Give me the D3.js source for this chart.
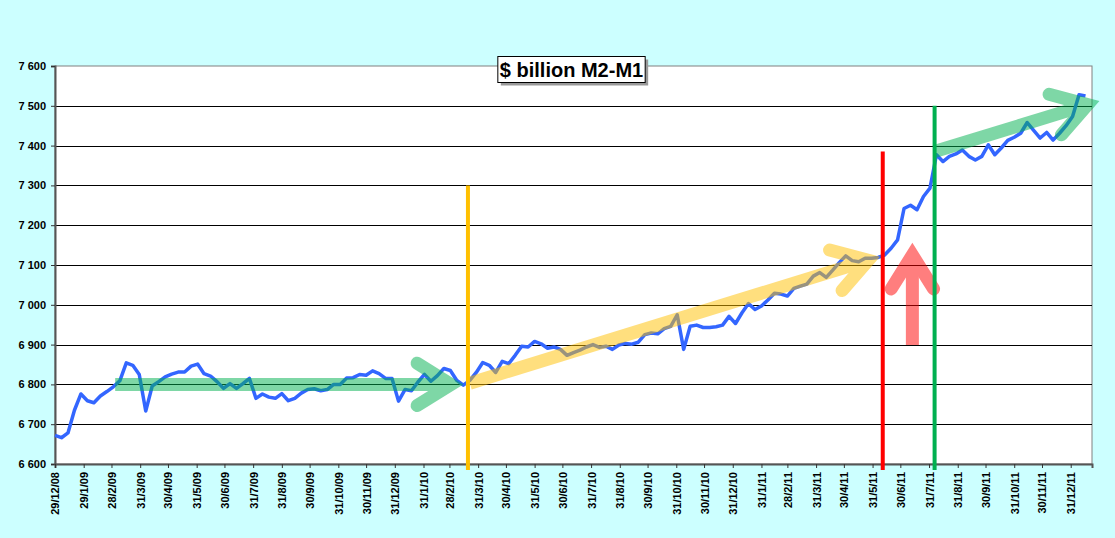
<!DOCTYPE html>
<html>
<head>
<meta charset="utf-8">
<script src="https://cdn.jsdelivr.net/npm/d3@7"></script>
<style>
  html, body { margin: 0; padding: 0; background: #ccffff; }
  svg { display: block; font-family: Arial, 'Liberation Sans', sans-serif; }
</style>
</head>
<body>
<div id="chart"></div>
<script>
// weekly M2-M1, $ billion, first week 29/12/08
const firstWeek = '29/12/08';
const m2m1 = [
  6672, 6666, 6678, 6735, 6776, 6759, 6754, 6771, 6782, 6794,
  6809, 6854, 6848, 6825, 6733, 6796, 6807, 6819, 6826, 6831,
  6831, 6846, 6851, 6827, 6821, 6807, 6790, 6802, 6790, 6802,
  6815, 6765, 6776, 6768, 6765, 6777, 6759, 6765, 6778, 6787,
  6789, 6784, 6787, 6800, 6800, 6816, 6817, 6825, 6823, 6834,
  6827, 6815, 6815, 6758, 6787, 6784, 6806, 6825, 6808, 6822,
  6840, 6835, 6810, 6798, 6810, 6830, 6855, 6848, 6830, 6858,
  6852, 6873, 6896, 6894, 6908, 6902, 6891, 6894, 6888, 6873,
  6880, 6886, 6894, 6900, 6893, 6896, 6888, 6899, 6903, 6901,
  6906, 6925, 6929, 6927, 6940, 6946, 6975, 6888, 6946, 6949,
  6943, 6943, 6945, 6949, 6971, 6953, 6980, 7003, 6988, 6997,
  7012, 7029, 7027, 7022, 7041, 7047, 7052, 7072, 7081, 7069,
  7087, 7106, 7123, 7111, 7108, 7117, 7117, 7119, 7125, 7142,
  7163, 7242, 7250, 7239, 7272, 7293, 7377, 7360, 7373, 7379,
  7389, 7373, 7364, 7373, 7402, 7377, 7394, 7413, 7421, 7431,
  7458, 7438, 7419, 7433, 7414, 7431, 7450, 7473, 7528, 7525
];

const xTickLabels = [
  '29/12/08', '29/1/09', '28/2/09', '31/3/09', '30/4/09', '31/5/09', '30/6/09',
  '31/7/09', '31/8/09', '30/9/09', '31/10/09', '30/11/09', '31/12/09', '31/1/10',
  '28/2/10', '31/3/10', '30/4/10', '31/5/10', '30/6/10', '31/7/10', '31/8/10',
  '30/9/10', '31/10/10', '30/11/10', '31/12/10', '31/1/11', '28/2/11', '31/3/11',
  '30/4/11', '31/5/11', '30/6/11', '31/7/11', '31/8/11', '30/9/11', '31/10/11',
  '30/11/11', '31/12/11'
];
const yTicks = [6600, 6700, 6800, 6900, 7000, 7100, 7200, 7300, 7400, 7500, 7600];
const xDomain = ['29/12/08', '23/1/12'];
const yDomain = [6600, 7600];

const title = '$ billion M2-M1';

// vertical marker lines: date, top value
const markerDates = ['20/3/10', '11/6/11', '6/8/11'];
const markerTops = [7300, 7385, 7500];
const markerBottom = 6585;

// trend arrows: start date/value -> tip date/value
const arrowFrom = [['4/3/09', 6800], ['22/3/10', 6803], ['13/7/11', 6899], ['6/8/11', 7385]];
const arrowTo = [['15/3/10', 6800], ['8/6/11', 7121], ['13/7/11', 7156], ['31/1/12', 7512]];

const markerColors = ['#ffc000', '#ff0000', '#00b050'];
const arrowColors = ['#00b050', '#ffc000', '#ff0000', '#00b050'];

const width = 1115;
const height = 538;
const plot = { left: 55, top: 66, right: 1092, bottom: 464 };

const parse = d3.timeParse('%d/%m/%y');
const start = parse(firstWeek);
const series = m2m1.map((v, i) => ({ date: d3.timeDay.offset(start, 7 * i), value: v }));

const x = d3.scaleTime()
  .domain(xDomain.map(parse))
  .range([plot.left, plot.right]);
const y = d3.scaleLinear()
  .domain(yDomain)
  .range([plot.bottom, plot.top]);

const svg = d3.select('#chart')
  .append('svg')
  .attr('width', width)
  .attr('height', height);

svg.append('rect')
  .attr('width', width).attr('height', height)
  .attr('fill', '#ccffff');

svg.append('rect')
  .attr('x', plot.left).attr('y', plot.top)
  .attr('width', plot.right - plot.left)
  .attr('height', plot.bottom - plot.top)
  .attr('fill', '#fff')
  .attr('stroke', '#808080');

// gridlines
svg.append('g')
  .selectAll('line')
  .data(yTicks.filter(t => t > yDomain[0] && t < yDomain[1]))
  .enter()
  .append('line')
  .attr('x1', plot.left).attr('x2', plot.right)
  .attr('y1', d => Math.round(y(d)) + 0.5)
  .attr('y2', d => Math.round(y(d)) + 0.5)
  .attr('stroke', '#000');

// y axis
const yAxis = svg.append('g')
  .attr('transform', `translate(${plot.left},0)`)
  .call(d3.axisLeft(y).tickValues(yTicks).tickSize(4).tickPadding(5)
    .tickFormat(d => d3.format(',')(d).replace(',', ' ')));
yAxis.select('.domain').attr('stroke', '#555').attr('stroke-width', 2);
yAxis.selectAll('line').attr('stroke', '#333');
yAxis.selectAll('text')
  .attr('fill', '#000')
  .style('font-size', '11px')
  .style('font-weight', 'bold');

// x axis
const xAxis = svg.append('g')
  .attr('transform', `translate(0,${plot.bottom})`)
  .call(d3.axisBottom(x).tickValues(xTickLabels.map(parse)).tickSize(4)
    .tickFormat((d, i) => xTickLabels[i]));
xAxis.select('.domain').attr('stroke', '#555').attr('stroke-width', 2);
xAxis.selectAll('line').attr('stroke', '#333');
xAxis.selectAll('text')
  .attr('fill', '#000')
  .attr('transform', 'rotate(-90)')
  .attr('x', -8)
  .attr('y', 0)
  .attr('dy', '0.36em')
  .attr('text-anchor', 'end')
  .style('font-size', '11px')
  .style('font-weight', 'bold');

// the series
const line = d3.line()
  .x(d => x(d.date))
  .y(d => y(d.value));

svg.append('path')
  .datum(series)
  .attr('d', line)
  .attr('fill', 'none')
  .attr('stroke', '#3366ff')
  .attr('stroke-width', 3.5)
  .attr('stroke-linejoin', 'round');

// arrows
const armLen = 40;
const spread = 32 * Math.PI / 180;
const thick = 13;

arrowFrom.forEach((from, i) => {
  const to = arrowTo[i];
  const x0 = x(parse(from[0])), y0 = y(from[1]);
  const tx = x(parse(to[0])), ty = y(to[1]);
  const ang = Math.atan2(ty - y0, tx - x0);
  const ext = (thick / 2) / Math.sin(spread);
  const vx = tx - ext * Math.cos(ang), vy = ty - ext * Math.sin(ang);
  const back = ang + Math.PI;
  const a1 = [vx + armLen * Math.cos(back - spread), vy + armLen * Math.sin(back - spread)];
  const a2 = [vx + armLen * Math.cos(back + spread), vy + armLen * Math.sin(back + spread)];

  const g = svg.append('g').attr('opacity', 0.5);
  g.append('line')
    .attr('x1', x0).attr('y1', y0)
    .attr('x2', vx).attr('y2', vy)
    .attr('stroke', arrowColors[i])
    .attr('stroke-width', thick);
  g.append('path')
    .attr('d', d3.line()([a1, [vx, vy], a2]))
    .attr('fill', 'none')
    .attr('stroke', arrowColors[i])
    .attr('stroke-width', thick)
    .attr('stroke-linecap', 'round')
    .attr('stroke-linejoin', 'miter');
});

// vertical markers
svg.append('g')
  .selectAll('line')
  .data(markerDates)
  .enter()
  .append('line')
  .attr('x1', d => x(parse(d)))
  .attr('x2', d => x(parse(d)))
  .attr('y1', (d, i) => y(markerTops[i]))
  .attr('y2', y(markerBottom))
  .attr('stroke', (d, i) => markerColors[i])
  .attr('stroke-width', 4);

// title box
const titleG = svg.append('g');
const titleText = titleG.append('text')
  .attr('x', 571.5)
  .attr('y', 77)
  .attr('text-anchor', 'middle')
  .style('font-size', '20px')
  .style('font-weight', 'bold')
  .attr('fill', '#000')
  .text(title);
const bb = titleText.node().getBBox();
const padX = 2;
titleG.insert('rect', 'text')
  .attr('x', bb.x - padX + 3).attr('y', 56.5 + 3)
  .attr('width', bb.width + 2 * padX).attr('height', 26)
  .attr('fill', '#999');
titleG.insert('rect', 'text')
  .attr('x', bb.x - padX).attr('y', 56.5)
  .attr('width', bb.width + 2 * padX).attr('height', 26)
  .attr('fill', '#fff')
  .attr('stroke', '#000');
</script>
</body>
</html>
